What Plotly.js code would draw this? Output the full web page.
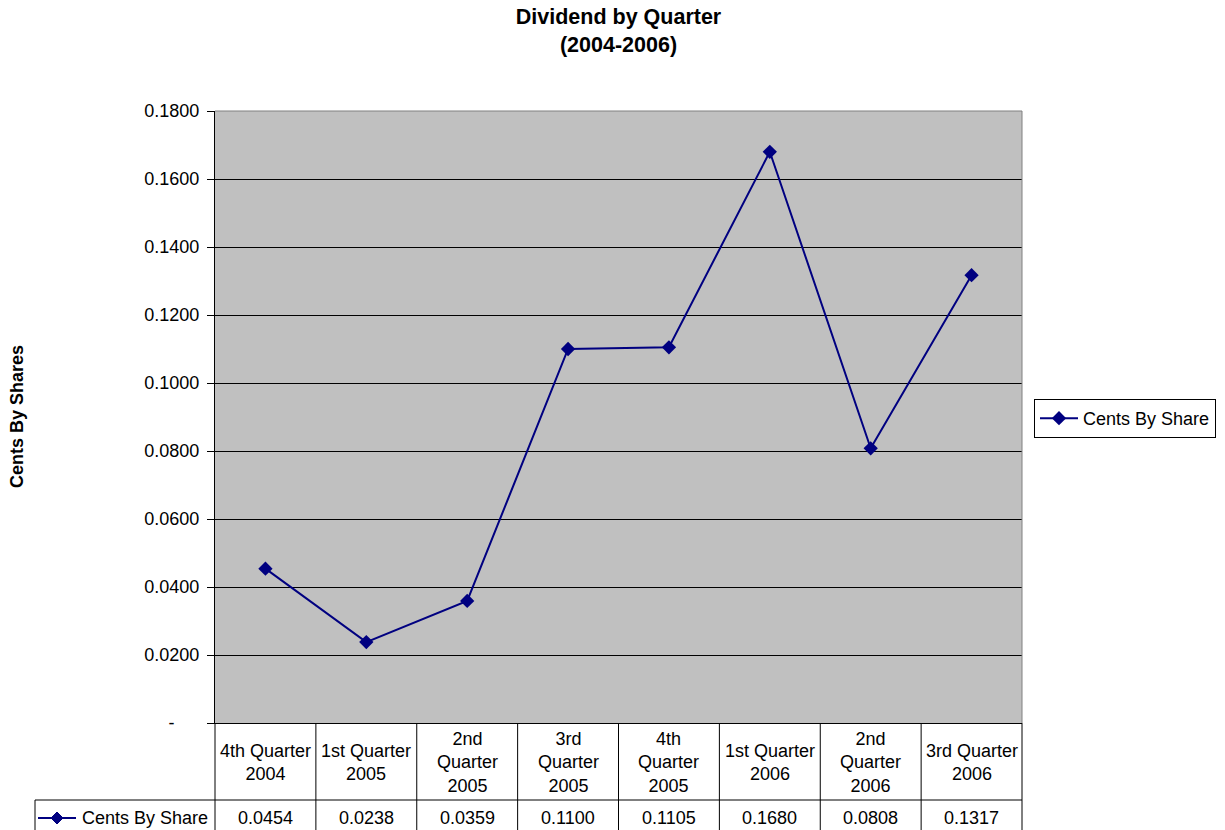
<!DOCTYPE html>
<html>
<head>
<meta charset="utf-8">
<script src="https://cdn.plot.ly/plotly-3.0.1.min.js"></script>
<style>html,body{margin:0;padding:0;background:#fff;}#chart{width:1225px;height:830px;}</style>
</head>
<body>
<div id="chart"></div>
<script>
// ---- data ----
const categories = ["4th Quarter<br>2004", "1st Quarter<br>2005", "2nd<br>Quarter<br>2005", "3rd<br>Quarter<br>2005",
  "4th<br>Quarter<br>2005", "1st Quarter<br>2006", "2nd<br>Quarter<br>2006", "3rd Quarter<br>2006"];
const centsByShare = [0.0454, 0.0238, 0.0359, 0.1100, 0.1105, 0.1680, 0.0808, 0.1317];
const seriesName = "Cents By Share";
const yTickVals = [0, 0.02, 0.04, 0.06, 0.08, 0.10, 0.12, 0.14, 0.16, 0.18];
const yTickText = ["-\u00a0\u00a0\u00a0\u00a0\u00a0", "0.0200", "0.0400", "0.0600", "0.0800", "0.1000", "0.1200", "0.1400", "0.1600", "0.1800"];

// ---- layout helpers ----
const W = 1225, H = 830;
const M = {l: 215, r: 203, t: 111, b: 107, autoexpand: false};
const PW = W - M.l - M.r, PH = H - M.t - M.b;
const px = x => (x - M.l) / PW;          // pixel x -> paper x
const py = y => (H - M.b - y) / PH;      // pixel y -> paper y
const FONT = "Arial, 'Liberation Sans', sans-serif";
const NAVY = "#000080";
const n = categories.length;

const shapes = [];
// table vertical lines at category boundaries
for (let k = 0; k <= n; k++) {
  shapes.push({type: "line", xref: "paper", yref: "paper", x0: k / n, x1: k / n, y0: 0, y1: py(832),
    line: {color: "#000", width: 1}});
}
// horizontal line between header row and value row
shapes.push({type: "line", xref: "paper", yref: "paper", x0: px(35), x1: 1, y0: py(800), y1: py(800), line: {color: "#000", width: 1}});
// left border of legend cell
shapes.push({type: "line", xref: "paper", yref: "paper", x0: px(35), x1: px(35), y0: py(800), y1: py(832), line: {color: "#000", width: 1}});
// plot-area border top and right (gray)
shapes.push({type: "line", xref: "paper", yref: "paper", x0: 0, x1: 1, y0: 1, y1: 1, line: {color: "#808080", width: 1}, layer: "above"});
shapes.push({type: "line", xref: "paper", yref: "paper", x0: 1, x1: 1, y0: 0, y1: 1, line: {color: "#808080", width: 1}, layer: "above"});
// legend key in table
shapes.push({type: "line", xref: "paper", yref: "paper", x0: px(38), x1: px(76), y0: py(818), y1: py(818), line: {color: NAVY, width: 2}});
const dx = 6, dy = 6, cx = 57, cy = 818;
shapes.push({type: "path", xref: "paper", yref: "paper",
  path: `M ${px(cx)} ${py(cy - dy)} L ${px(cx + dx)} ${py(cy)} L ${px(cx)} ${py(cy + dy)} L ${px(cx - dx)} ${py(cy)} Z`,
  fillcolor: NAVY, line: {color: NAVY, width: 1}});

const annotations = [];
categories.forEach((c, i) => {
  annotations.push({xref: "x", yref: "paper", x: i, y: py(762), text: c, showarrow: false,
    xanchor: "center", yanchor: "middle", align: "center", font: {family: FONT, size: 18, color: "#000"}});
  annotations.push({xref: "x", yref: "paper", x: i, y: py(818), text: centsByShare[i].toFixed(4), showarrow: false,
    xanchor: "center", yanchor: "middle", font: {family: FONT, size: 18, color: "#000"}});
});
annotations.push({xref: "paper", yref: "paper", x: px(80), y: py(818), text: seriesName, showarrow: false,
  xanchor: "left", yanchor: "middle", font: {family: FONT, size: 18, color: "#000"}});
annotations.push({xref: "paper", yref: "paper", x: px(17), y: 0.5, text: "<b>Cents By Shares</b>", showarrow: false,
  textangle: -90, xanchor: "center", yanchor: "middle", font: {family: FONT, size: 18, color: "#000"}});

const trace = {
  x: categories.map((c, i) => i),
  y: centsByShare,
  type: "scatter",
  mode: "lines+markers",
  name: seriesName,
  line: {color: NAVY, width: 2},
  marker: {symbol: "diamond", size: 11, color: NAVY},
  cliponaxis: false
};

const layout = {
  width: W, height: H,
  margin: M,
  paper_bgcolor: "#fff",
  plot_bgcolor: "#C0C0C0",
  font: {family: FONT, size: 18, color: "#000"},
  title: {text: "<b>Dividend by Quarter</b><br><b>(2004-2006)</b>", font: {family: FONT, size: 21.5, color: "#000"},
    x: 0.5, xref: "paper", y: 0.9709, yref: "container", yanchor: "top"},
  xaxis: {range: [-0.5, n - 0.5], showticklabels: false, ticks: "", showgrid: false, zeroline: false, automargin: false,
    showline: true, linecolor: "#000", linewidth: 1, fixedrange: true},
  yaxis: {range: [0, 0.18], tickvals: yTickVals, ticktext: yTickText, ticks: "outside", ticklen: 7, tickcolor: "#000",
    ticklabelstandoff: 4, automargin: false,
    showgrid: true, gridcolor: "#000", gridwidth: 1, zeroline: false, showline: true, linecolor: "#000", linewidth: 1,
    tickfont: {family: FONT, size: 18, color: "#000"}, fixedrange: true},
  showlegend: true,
  legend: {x: px(1034), xanchor: "left", y: py(418.5), yanchor: "middle", bgcolor: "#fff", bordercolor: "#000",
    borderwidth: 1, itemwidth: 38, font: {family: FONT, size: 18, color: "#000"}},
  shapes: shapes,
  annotations: annotations
};

Plotly.newPlot("chart", [trace], layout, {displayModeBar: false, staticPlot: true});
</script>
</body>
</html>
